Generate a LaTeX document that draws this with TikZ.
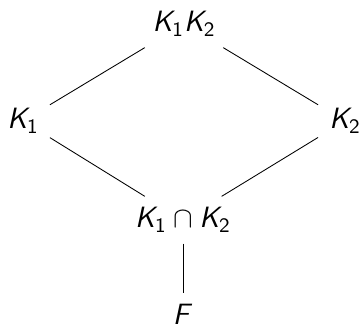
\RequirePackage{fix-cm}
\documentclass[tikz,border=0pt]{standalone}
\usepackage{tikz}
\usepackage{amsmath}
\DeclareSymbolFont{sfit}{OT1}{cmss}{m}{sl}
\DeclareMathSymbol{K}{\mathalpha}{sfit}{`K}
\DeclareMathSymbol{F}{\mathalpha}{sfit}{`F}
\SetSymbolFont{operators}{normal}{OT1}{cmss}{m}{n}

\begin{document}
\begin{tikzpicture}[
  x=0.463pt, y=-0.463pt,
  fld/.style={inner sep=5pt, font=\fontsize{13.6}{16}\selectfont}
]
\useasboundingbox (0,0) rectangle (362,327);
\node[fld] (top) at (184,24)  {$K_1K_2$};
\node[fld] (ka)  at (23,121)  {$K_1$};
\node[fld] (kb)  at (345,121) {$K_2$};
\node[fld] (cap) at (183,220) {$K_1\cap K_2$};
\node[fld] (f)   at (183,314) {$F$};

\draw (top) -- (ka);
\draw (top) -- (kb);
\draw (ka)  -- (cap);
\draw (kb)  -- (cap);
\draw (cap) -- (f);
\end{tikzpicture}
\end{document}
